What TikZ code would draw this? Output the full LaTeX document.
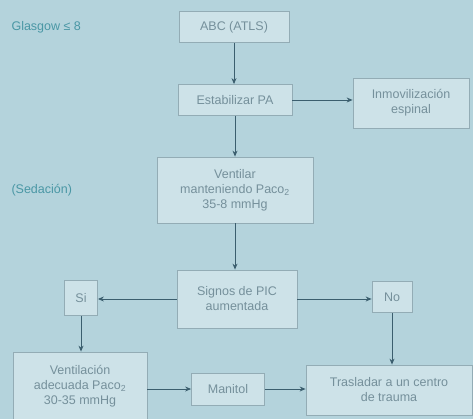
\documentclass[tikz,border=0pt]{standalone}
\usepackage{fontspec}
\setmainfont{Liberation Sans}
\usetikzlibrary{arrows.meta}
\definecolor{bgc}{HTML}{B4D3DC}
\definecolor{boxc}{HTML}{CDE2E8}
\definecolor{edgec}{HTML}{93ACB5}
\definecolor{txtc}{HTML}{75909B}
\definecolor{arrc}{HTML}{3B5E6E}
\definecolor{notec}{HTML}{4A97A5}
\tikzset{
  box/.style={draw=edgec, fill=boxc, line width=0.8pt, text=txtc, align=center,
    inner sep=2pt, font=\fontsize{12.5}{15}\selectfont},
  note/.style={text=notec, anchor=west, font=\fontsize{12.5}{14}\selectfont},
  arr/.style={draw=arrc, line width=0.9pt, -{Stealth[length=6pt,width=5pt]}}
}
\begin{document}
\begin{tikzpicture}[x=1pt,y=-1pt]
\fill[bgc] (0,0) rectangle (473,419);
\useasboundingbox (0,0) rectangle (473,419);
\node[note] (gl) at (8,27) {Glasgow ≤ 8};
\node[note] (sed) at (8,190) {(Sedación)};
\node[box, minimum width=110pt, minimum height=31pt] (abc) at (234,27) {ABC (ATLS)};
\node[box, minimum width=114pt, minimum height=31pt] (est) at (235,100) {Estabilizar PA};
\node[box, minimum width=116pt, minimum height=50pt] (inm) at (411,103) {Inmovilización\\espinal};
\node[box, minimum width=156pt, minimum height=66pt] (ven) at (235,190) {Ventilar\\manteniendo Paco\textsubscript{2}\\35-8 mmHg};
\node[box, minimum width=120pt, minimum height=58pt] (sig) at (237,299) {Signos de PIC\\aumentada};
\node[box, minimum width=33pt, minimum height=35pt] (si) at (81,298) {Si};
\node[box, minimum width=40pt, minimum height=31pt] (no) at (392,297) {No};
\node[box, minimum width=134pt, minimum height=68pt] (vad) at (80,386) {Ventilación\\adecuada Paco\textsubscript{2}\\30-35 mmHg};
\node[box, minimum width=73pt, minimum height=32pt] (man) at (228,389) {Manitol};
\node[box, minimum width=166pt, minimum height=50pt] (tra) at (389,390) {Trasladar a un centro\\de trauma};
\draw[arr] (abc) -- (abc |- est.north);
\draw[arr] (est) -- (est -| inm.west);
\draw[arr] (est) -- (est |- ven.north);
\draw[arr] (ven) -- (ven |- sig.north);
\draw[arr] (sig) -- (sig -| si.east);
\draw[arr] (sig) -- (sig -| no.west);
\draw[arr] (si) -- (si |- vad.north);
\draw[arr] (no) -- (no |- tra.north);
\draw[arr] (vad.east |- man) -- (man);
\draw[arr] (man) -- (man -| tra.west);
\end{tikzpicture}
\end{document}
